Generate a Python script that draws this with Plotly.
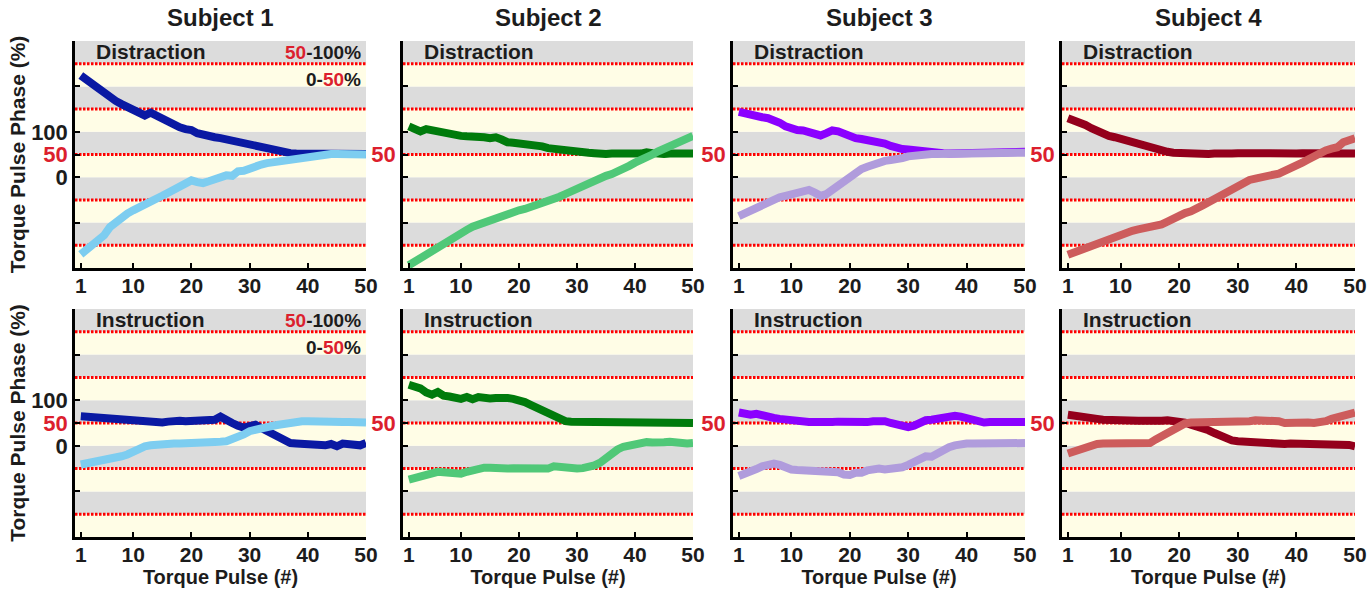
import plotly.graph_objects as go

pulses = list(range(1, 51))
subjects = ["Subject 1", "Subject 2", "Subject 3", "Subject 4"]
conditions = ["Distraction", "Instruction"]
x_ticks = [1, 10, 20, 30, 40, 50]

# Subject 1
s1_dis_dark = [224, 214, 204, 194, 185, 176, 168, 161, 154, 148, 140, 136, 142, 135, 130, 126, 118, 110, 106, 104,
               97, 93, 91, 88, 86, 83, 82, 80, 77, 75, 72, 68, 65, 60, 57, 55, 53, 52, 52, 52,
               53, 54, 54, 54, 54, 54, 54, 53, 51, 51]
s1_dis_light = [-170, -160, -149, -138, -128, -110, -98, -88, -80, -73, -66, -59, -50, -46, -41, -34, -26, -20, -14, -7,
                -11, -13, -9, -5, -1, 4, 3, 13, 14, 20, 24, 28, 31, 33, 36, 38, 40, 41, 43, 46,
                48, 50, 50, 51, 51, 51, 51, 51, 50, 50]
s1_ins_dark = [65, 64, 62, 60, 59, 58, 57, 55, 55, 54, 53, 52, 52, 53, 51, 53, 56, 55, 54, 54,
               55, 57, 57, 57, 64, 59, 50, 44, 40, 43, 46, 39, 32, 28, 21, 11, 6, 5, 4, 4,
               4, 5, 1, 4, -1, 5, 4, 3, 1, 6]
s1_ins_light = [-41, -39, -36, -33, -30, -28, -25, -23, -19, -12, -6, -1, 1, 3, 3, 4, 5, 5, 5, 6,
                6, 7, 8, 8, 9, 10, 14, 19, 25, 32, 36, 39, 42, 44, 46, 48, 52, 55, 54, 54,
                53, 52, 52, 52, 51, 52, 52, 52, 51, 51]

# Subject 2
s2_dis_dark = [112, 105, 101, 106, 103, 99, 97, 94, 94, 91, 90, 90, 91, 88, 86, 88, 83, 77, 76, 75,
               73, 72, 72, 68, 64, 62, 60, 59, 58, 57, 56, 54, 53, 51, 51, 52, 53, 54, 53, 52,
               52, 55, 53, 50, 51, 52, 52, 51, 51, 52]
s2_dis_light = [-194, -186, -178, -169, -160, -153, -146, -135, -130, -124, -116, -109, -104, -99, -95, -90, -85, -80, -77, -73,
                -70, -66, -60, -55, -52, -48, -43, -37, -31, -25, -18, -12, -6, -1, 3, 7, 12, 19, 25, 32,
                37, 43, 50, 57, 62, 67, 72, 77, 84, 91]
s2_ins_dark = [134, 131, 126, 117, 112, 118, 110, 108, 105, 103, 107, 102, 107, 104, 104, 105, 106, 105, 103, 101,
               96, 90, 84, 77, 70, 63, 57, 54, 53, 53, 53, 53, 52, 53, 54, 53, 52, 52, 53, 52,
               51, 51, 50, 51, 53, 52, 52, 51, 50, 50]
s2_ins_light = [-74, -70, -66, -61, -58, -57, -58, -60, -63, -61, -57, -53, -50, -48, -48, -50, -50, -50, -49, -49,
                -48, -48, -47, -48, -50, -45, -47, -50, -50, -50, -49, -47, -43, -37, -26, -14, -8, -2, 1, 4,
                6, 8, 7, 6, 8, 9, 7, 5, 5, 6]

# Subject 3
s3_dis_dark = [144, 140, 137, 135, 132, 130, 126, 120, 112, 106, 104, 103, 99, 96, 92, 97, 103, 101, 95, 90,
               86, 84, 82, 80, 77, 74, 69, 64, 62, 61, 59, 57, 56, 55, 54, 53, 52, 52, 52, 52,
               53, 54, 56, 55, 54, 56, 55, 53, 54, 56]
s3_dis_light = [-86, -80, -73, -66, -59, -53, -48, -44, -41, -38, -34, -30, -28, -34, -41, -37, -28, -19, -8, 3,
                13, 18, 23, 28, 32, 36, 38, 39, 42, 46, 48, 50, 50, 51, 51, 51, 52, 52, 52, 52,
                52, 53, 54, 54, 53, 54, 54, 52, 53, 54]
s3_ins_dark = [73, 70, 68, 70, 66, 63, 61, 59, 57, 56, 55, 54, 52, 52, 51, 51, 52, 53, 52, 51,
               51, 51, 52, 54, 56, 54, 50, 46, 43, 41, 44, 50, 56, 57, 59, 62, 65, 66, 64, 61,
               56, 52, 51, 52, 52, 52, 52, 52, 51, 52]
s3_ins_light = [-66, -62, -58, -51, -45, -41, -39, -42, -48, -52, -53, -54, -54, -53, -53, -54, -55, -58, -63, -64,
                -59, -59, -54, -50, -50, -52, -51, -50, -47, -42, -36, -30, -23, -24, -16, -8, -3, 1, 4, 5,
                5, 5, 5, 5, 5, 4, 4, 3, 4, 6]

# Subject 4
s4_dis_dark = [130, 126, 122, 115, 108, 101, 93, 91, 88, 84, 81, 78, 75, 72, 68, 64, 59, 56, 54, 53,
               52, 51, 50, 51, 51, 52, 51, 51, 52, 53, 52, 52, 52, 53, 53, 52, 52, 52, 52, 52,
               53, 53, 52, 51, 51, 52, 50, 51, 51, 52]
s4_dis_light = [-171, -166, -162, -155, -149, -146, -142, -137, -131, -127, -122, -118, -115, -113, -111, -108, -104, -98, -91, -85,
                -79, -75, -70, -62, -55, -48, -41, -34, -26, -18, -10, -6, -3, -1, 1, 3, 8, 14, 19, 25,
                32, 39, 47, 55, 59, 63, 66, 77, 81, 86]
s4_ins_dark = [68, 67, 66, 63, 61, 59, 57, 56, 56, 56, 56, 56, 55, 55, 54, 54, 55, 56, 55, 54,
               51, 46, 43, 39, 34, 28, 21, 15, 12, 10, 9, 9, 8, 7, 5, 2, 3, 4, 5, 5,
               3, 1, 5, 4, 3, 3, 1, 3, 2, -1]
s4_ins_light = [-17, -12, -7, -2, 3, 4, 5, 5, 4, 3, 4, 5, 5, 6, 6, 14, 22, 30, 37, 43,
                49, 51, 51, 51, 51, 51, 51, 51, 52, 52, 53, 54, 56, 56, 57, 57, 54, 50, 51, 52,
                52, 51, 50, 51, 54, 59, 63, 65, 68, 73]

dark_colors = ["#0a19a3", "#007b0c", "#8b00ff", "#94001c"]
light_colors = ["#7dcdf0", "#50c878", "#b09cdc", "#cd5c5c"]

data = [
    [(s1_dis_dark, s1_dis_light), (s2_dis_dark, s2_dis_light), (s3_dis_dark, s3_dis_light), (s4_dis_dark, s4_dis_light)],
    [(s1_ins_dark, s1_ins_light), (s2_ins_dark, s2_ins_light), (s3_ins_dark, s3_ins_light), (s4_ins_dark, s4_ins_light)],
]

W, H = 1369, 591
x_px = [(75, 366), (403, 693), (733, 1025), (1062, 1355)]
y_px = [(41, 268), (309, 537)]
FONT = "Liberation Sans"
TXT = "#1c1c1c"
RED = "#dc1f2e"
GREY = "#dcdcdc"
YELLOW = "#fffde6"

fig = go.Figure()
layout = {}
shapes = []
annotations = []

for r in range(2):
    for c in range(4):
        n = r * 4 + c + 1
        xa = "x" if n == 1 else f"x{n}"
        ya = "y" if n == 1 else f"y{n}"
        dark, light = data[r][c]
        fig.add_trace(go.Scatter(x=pulses, y=dark, mode="lines", line=dict(color=dark_colors[c], width=8),
                                 xaxis=xa, yaxis=ya, showlegend=False, name=f"{subjects[c]} {conditions[r]} A"))
        fig.add_trace(go.Scatter(x=pulses, y=light, mode="lines", line=dict(color=light_colors[c], width=8),
                                 xaxis=xa, yaxis=ya, showlegend=False, name=f"{subjects[c]} {conditions[r]} B"))
        x0, x1 = x_px[c]
        yt, yb = y_px[r]
        layout[f"xaxis{n}"] = dict(
            domain=[x0 / W, x1 / W], range=[0, 50], anchor=ya,
            tickvals=x_ticks, ticktext=[str(v) for v in x_ticks],
            ticks="inside", ticklen=5, tickwidth=2, tickcolor="black",
            showline=True, linecolor="black", linewidth=2.5,
            showgrid=False, zeroline=False, automargin=False,
            ticklabelstandoff=-3,
            tickfont=dict(family=FONT, size=21, color=TXT, weight="bold"),
            title=dict(text="Torque Pulse (#)" if r == 1 else "",
                       font=dict(family=FONT, size=20, color=TXT, weight="bold"), standoff=5),
        )
        red50 = f'<span style="color:{RED}">50</span>'
        ytext = ["", "0", red50, "100", "", ""] if c == 0 else ["", "", red50, "", "", ""]
        layout[f"yaxis{n}"] = dict(
            domain=[1 - yb / H, 1 - yt / H], range=[-200, 300], anchor=xa,
            tickvals=[-100, 0, 50, 100, 200, 300], ticktext=ytext,
            ticks="inside", ticklen=5, tickwidth=2, tickcolor="black",
            showline=True, linecolor="black", linewidth=2.5,
            showgrid=False, zeroline=False, automargin=False,
            tickfont=dict(family=FONT, size=22, color=TXT, weight="bold"),
            title=dict(text="Torque Pulse Phase (%)" if c == 0 else "",
                       font=dict(family=FONT, size=21, color=TXT, weight="bold"), standoff=0),
        )
        # alternating bands
        for lo in range(-200, 300, 50):
            col = GREY if (lo // 50) % 2 == 1 else YELLOW
            shapes.append(dict(type="rect", xref=f"{xa} domain", yref=ya, x0=0, x1=1, y0=lo, y1=lo + 50,
                               fillcolor=col, line=dict(width=0), layer="below"))
        for yl in [-150, -50, 50, 150, 250]:
            shapes.append(dict(type="line", xref=f"{xa} domain", yref=ya, x0=0, x1=1, y0=yl, y1=yl,
                               line=dict(color="#ff0000", width=3, dash="2.5px,1.5px"), layer="below"))
        annotations.append(dict(text=conditions[r], xref=f"{xa} domain", yref=f"{ya} domain",
                                x=0.065, y=0.953, xanchor="left", yanchor="middle", showarrow=False,
                                font=dict(family=FONT, size=21, color=TXT, weight="bold")))
        if c == 0:
            annotations.append(dict(text=f'<span style="color:{RED}">50</span>-100%', xref=f"{xa} domain",
                                    yref=f"{ya} domain", x=0.99, y=0.951, xanchor="right", yanchor="middle",
                                    showarrow=False, font=dict(family=FONT, size=19, color=TXT, weight="bold")))
            annotations.append(dict(text=f'0-<span style="color:{RED}">50</span>%', xref=f"{xa} domain",
                                    yref=f"{ya} domain", x=0.99, y=0.83, xanchor="right", yanchor="middle",
                                    showarrow=False, font=dict(family=FONT, size=19, color=TXT, weight="bold")))
        if r == 0:
            annotations.append(dict(text=subjects[c], xref="paper", yref="paper",
                                    x=(x0 + x1) / 2 / W, y=1 - 17 / H, xanchor="center", yanchor="middle",
                                    showarrow=False, font=dict(family=FONT, size=24, color=TXT, weight="bold")))

fig.update_layout(
    width=W, height=H, margin=dict(l=0, r=0, t=0, b=0, autoexpand=False),
    paper_bgcolor="white", plot_bgcolor="white",
    shapes=shapes, annotations=annotations, **layout,
)
fig.write_html("out.html", config={"displayModeBar": False},
               post_script="document.body.style.margin='0';document.body.style.padding='0';"
                           "document.body.style.overflow='hidden';")
